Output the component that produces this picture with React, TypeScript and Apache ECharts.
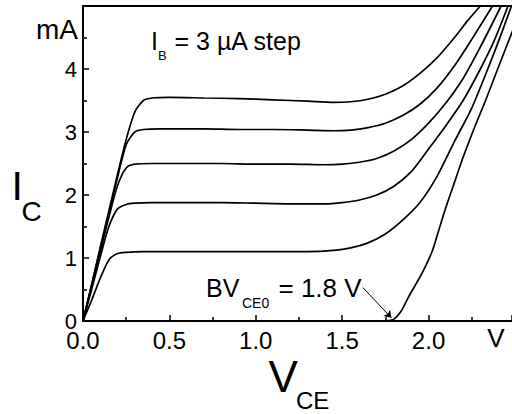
import React, { useEffect, useRef } from "react";
import * as echarts from "echarts";

// I_C (mA) vs V_CE (V), one curve per base-current step (3 µA), plus the I_B = 0 breakdown curve
const curveA: [number, number][] = [
  [0, 0], [0.05, 0.58], [0.1, 1.17], [0.15, 1.75], [0.2, 2.33], [0.25, 2.88], [0.3, 3.32], [0.35, 3.5],
  [0.4, 3.54], [0.5, 3.55], [0.7, 3.54], [0.9, 3.53], [1.1, 3.51], [1.3, 3.49], [1.45, 3.47], [1.55, 3.48],
  [1.65, 3.52], [1.75, 3.6], [1.85, 3.73], [1.95, 3.93], [2.05, 4.18], [2.15, 4.5], [2.23, 4.78], [2.3, 5.0],
];
const curveB: [number, number][] = [
  [0, 0], [0.05, 0.57], [0.1, 1.15], [0.15, 1.72], [0.2, 2.28], [0.25, 2.8], [0.3, 3.0], [0.35, 3.04],
  [0.45, 3.05], [0.7, 3.05], [0.9, 3.04], [1.1, 3.04], [1.3, 3.03], [1.45, 3.02], [1.55, 3.03], [1.65, 3.07],
  [1.75, 3.14], [1.85, 3.26], [1.95, 3.44], [2.05, 3.7], [2.15, 4.05], [2.25, 4.47], [2.37, 5.0],
];
const curveC: [number, number][] = [
  [0, 0], [0.05, 0.55], [0.1, 1.1], [0.15, 1.65], [0.2, 2.15], [0.25, 2.43], [0.3, 2.49], [0.4, 2.5],
  [0.6, 2.5], [0.8, 2.5], [1.0, 2.49], [1.2, 2.49], [1.4, 2.48], [1.5, 2.49], [1.6, 2.52], [1.7, 2.58],
  [1.8, 2.7], [1.9, 2.88], [2.0, 3.14], [2.1, 3.46], [2.2, 3.85], [2.3, 4.35], [2.42, 5.0],
];
const curveD: [number, number][] = [
  [0, 0], [0.05, 0.5], [0.1, 1.02], [0.15, 1.5], [0.2, 1.78], [0.25, 1.85], [0.3, 1.87], [0.4, 1.88],
  [0.6, 1.88], [0.8, 1.88], [1.0, 1.87], [1.2, 1.86], [1.4, 1.86], [1.5, 1.88], [1.6, 1.92], [1.7, 2.0],
  [1.8, 2.14], [1.9, 2.37], [2.0, 2.73], [2.1, 3.1], [2.2, 3.5], [2.3, 4.0], [2.38, 4.45], [2.46, 5.0],
];
const curveE: [number, number][] = [
  [0, 0], [0.05, 0.33], [0.1, 0.68], [0.15, 0.97], [0.2, 1.07], [0.25, 1.09], [0.35, 1.1], [0.5, 1.1],
  [0.7, 1.1], [0.9, 1.1], [1.1, 1.1], [1.3, 1.1], [1.45, 1.12], [1.55, 1.16], [1.65, 1.24], [1.75, 1.38],
  [1.85, 1.6], [1.95, 1.88], [2.05, 2.3], [2.15, 2.85], [2.25, 3.38], [2.35, 4.05], [2.42, 4.55], [2.48, 5.0],
];
const curveBreakdown: [number, number][] = [
  [1.5, 0], [1.6, 0], [1.7, 0], [1.76, 0.005], [1.8, 0.03], [1.84, 0.15], [1.88, 0.36], [1.93, 0.6],
  [1.97, 0.8], [2.02, 1.1], [2.06, 1.45], [2.1, 1.8], [2.15, 2.2], [2.2, 2.6], [2.27, 3.1],
  [2.33, 3.5], [2.4, 4.0], [2.5, 4.7], [2.56, 5.1],
];
const curves = [curveA, curveB, curveC, curveD, curveE, curveBreakdown];

const xTickLabels = ["0.0", "0.5", "1.0", "1.5", "2.0"];
const yTickLabels = ["0", "1", "2", "3", "4"];

// arrow of the BV_CE0 annotation (data coordinates: start, end)
const arrowFrom: [number, number] = [1.62, 0.53];
const arrowTo: [number, number] = [1.785, 0.05];

const FONT = "'Liberation Sans', Arial, sans-serif";

export default function App() {
  const ref = useRef<HTMLDivElement>(null);
  useEffect(() => {
    if (!ref.current) return;
    const chart = echarts.init(ref.current, undefined, { renderer: "svg" });
    const txt = (text: string, x: number, y: number, size: number, align = "left") => ({
      type: "text",
      x,
      y,
      style: { text, fontSize: size, fontFamily: FONT, fill: "#000", align, verticalAlign: "middle" },
    });
    chart.setOption({
      animation: false,
      backgroundColor: "#fff",
      grid: { left: 83, top: 6, right: 0, bottom: 93 },
      xAxis: [
        {
          type: "value",
          min: 0,
          max: 2.483,
          interval: 0.5,
          axisLine: { show: true, lineStyle: { color: "#000", width: 2 } },
          axisTick: { show: true, inside: true, length: 6, lineStyle: { color: "#000", width: 1.5 } },
          minorTick: { show: true, splitNumber: 2, length: 4, lineStyle: { color: "#000", width: 1.5 } },
          splitLine: { show: false },
          axisLabel: {
            color: "#000",
            fontSize: 24,
            lineHeight: 20,
            fontFamily: FONT,
            margin: 9,
            showMaxLabel: false,
            formatter: (v: number) => {
              const i = Math.round(v / 0.5);
              return Math.abs(v - i * 0.5) < 1e-6 && i < xTickLabels.length ? xTickLabels[i] : "";
            },
          },
        },
        {
          type: "value",
          position: "top",
          min: 0,
          max: 2.483,
          axisLine: { show: true, lineStyle: { color: "#000", width: 2 } },
          axisTick: { show: false },
          axisLabel: { show: false },
          splitLine: { show: false },
        },
      ],
      yAxis: {
        type: "value",
        min: 0,
        max: 5,
        interval: 1,
        axisLine: { show: true, lineStyle: { color: "#000", width: 2 } },
        axisTick: { show: true, inside: true, length: 6, lineStyle: { color: "#000", width: 1.5 } },
        minorTick: { show: true, splitNumber: 2, length: 4, lineStyle: { color: "#000", width: 1.5 } },
        splitLine: { show: false },
        axisLabel: {
          color: "#000",
          fontSize: 22,
          lineHeight: 16,
          fontFamily: FONT,
          margin: 6,
          formatter: (v: number) => {
            const i = Math.round(v);
            return i < yTickLabels.length ? yTickLabels[i] : "";
          },
        },
      },
      series: curves.map((c, idx) => ({
        type: "line",
        data: c,
        showSymbol: false,
        smooth: 0.25,
        clip: true,
        lineStyle: { color: "#000", width: 1.7 },
        markLine:
          idx === curves.length - 1
            ? {
                silent: true,
                symbol: ["none", "arrow"],
                symbolSize: 7,
                label: { show: false },
                lineStyle: { color: "#000", width: 1, type: "solid" },
                data: [[{ coord: arrowFrom }, { coord: arrowTo }]],
              }
            : undefined,
      })),
      graphic: [
        txt("I", 11.5, 185.5, 41),
        txt("C", 21.5, 211.7, 28),
        txt("V", 268.5, 376.5, 44),
        txt("CE", 296, 400, 24),
        txt("mA", 78, 29.5, 28, "right"),
        txt("V", 496, 338, 26, "center"),
        txt("I", 151, 41.4, 25),
        txt("B", 158, 55.5, 13),
        txt("= 3 µA step", 174.5, 41.4, 25),
        txt("BV", 206, 287.5, 25),
        txt("CE0", 242, 302.5, 14),
        txt("= 1.8 V", 278.5, 287.5, 26),
      ],
    });
    return () => chart.dispose();
  }, []);
  return <div ref={ref} style={{ width: 512, height: 414, position: "absolute", left: 0, top: 0 }} />;
}
